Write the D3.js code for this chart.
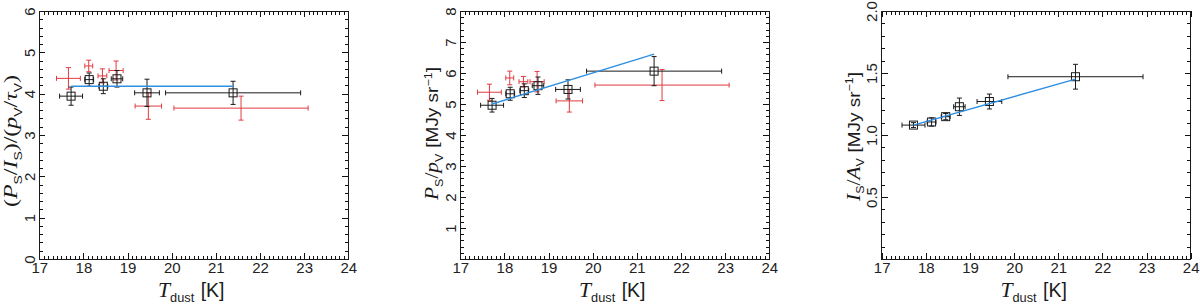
<!DOCTYPE html>
<html>
<head>
<meta charset="utf-8">
<script src="https://cdn.jsdelivr.net/npm/d3@7"></script>
<style>
  body { margin: 0; background: #fff; }
  svg { display: block; }
  .tick text { font-family: "Liberation Sans", Arial, sans-serif; font-size: 15px; fill: #222; }
  .tick line { stroke: #111; }
</style>
</head>
<body>
<svg id="chart" width="1200" height="306"></svg>
<script>
// dust temperature, black points (same for all three panels)
const tdust = [17.72, 18.13, 18.45, 18.76, 19.44, 21.39];
const tdustErr = [0.26, 0.10, 0.10, 0.13, 0.28, 1.53];
// dust temperature, red points
const tdustRed = [17.66, 18.12, 18.43, 18.74, 19.47, 21.57];
const tdustRedErr = [0.27, 0.09, 0.10, 0.16, 0.30, 1.52];

// panel 1: (Ps/Is)/(pv/tauv)
const ratioBlack = [3.94, 4.34, 4.18, 4.36, 4.02, 4.02];
const ratioBlackErr = [0.22, 0.16, 0.18, 0.20, 0.33, 0.28];
const ratioRed = [4.37, 4.67, 4.43, 4.56, 3.70, 3.65];
const ratioRedErr = [0.26, 0.14, 0.17, 0.23, 0.32, 0.29];
const ratioFit = [4.18, 4.18];

// panel 2: Ps/pv
const polBlack = [4.96, 5.33, 5.43, 5.59, 5.47, 6.06];
const polBlackErr = [0.22, 0.21, 0.22, 0.28, 0.31, 0.47];
const polRed = [5.38, 5.84, 5.72, 5.72, 5.10, 5.61];
const polRedErr = [0.26, 0.22, 0.17, 0.33, 0.36, 0.50];
const polFit = [5.00, 6.61];

// panel 3: Is/Av
const intBlack = [1.08, 1.105, 1.148, 1.228, 1.27, 1.47];
const intBlackErr = [0.02, 0.033, 0.025, 0.07, 0.06, 0.10];
const intFit = [1.08, 1.45];

// tick labels
const xTicks = [17, 18, 19, 20, 21, 22, 23, 24];
const yTicks1 = [0, 1, 2, 3, 4, 5, 6];
const yTicks2 = [1, 2, 3, 4, 5, 6, 7, 8];
const yTicks3 = [0.5, 1.0, 1.5, 2.0];

const RED = "#e23a3f";
const BLUE = "#2f8fe0";
const INK = "#1a1a1a";

const svg = d3.select("#chart");
const plotTop = 11, plotH = 248, plotW = 309;

// bits of a math label: it = italic serif, rm = serif, sub = small sans subscript, sans, sup
// optional third item is an extra gap before the piece
function mathLabel(sel, parts, size){
    let shift = 0;
    parts.forEach(([kind, txt, gap]) => {
        const t = sel.append("tspan").text(txt);
        let want = 0;
        if (kind === "it" || kind === "rm"){
            t.attr("font-family", "'Liberation Serif', 'Times New Roman', serif")
             .attr("font-style", kind === "it" ? "italic" : "normal")
             .attr("font-size", size + 1);
        } else {
            t.attr("font-family", "'Liberation Sans', Arial, sans-serif");
            if (kind === "sub"){ t.attr("font-size", size * 0.62); want = size * 0.25; }
            else if (kind === "sup"){ t.attr("font-size", size * 0.62); want = -size * 0.38; }
            else t.attr("font-size", size - 1);
        }
        if (gap) t.attr("dx", gap);
        if (want !== shift){ t.attr("dy", want - shift); shift = want; }
    });
}

// squeeze or stretch a label to the length it has in the figure
function fitScale(textSel, target){
    const len = textSel.node().getComputedTextLength();
    return len > 0 ? target / len : 1;
}

function drawPanel(p){
    const x = d3.scaleLinear().domain([17, 24]).range([p.left, p.left + plotW]);
    const y = d3.scaleLinear().domain(p.yDomain).range([plotTop + plotH, plotTop]);
    const g = svg.append("g");

    const xMinor = d3.range(170, 241).map(v => v / 10).filter(v => Math.abs(v - Math.round(v)) > 1e-6);
    const yMinor = d3.range(p.yDomain[0], p.yDomain[1] + 1e-9, p.yMinorStep)
        .map(v => +v.toFixed(3)).filter(v => !p.yMajor.some(m => Math.abs(m - v) < 1e-6));

    const addAxis = (axis, transform) => {
        const a = g.append("g").attr("transform", transform).call(axis).attr("shape-rendering", "crispEdges");
        a.select(".domain").remove();
        return a;
    };

    const bottom = plotTop + plotH;
    // bottom / top
    addAxis(d3.axisBottom(x).tickValues(xTicks).tickSize(-6).tickPadding(3).tickFormat(d3.format("d")), `translate(0,${bottom})`);
    addAxis(d3.axisBottom(x).tickValues(xMinor).tickSize(-3.5).tickFormat(""), `translate(0,${bottom})`);
    addAxis(d3.axisTop(x).tickValues(xTicks).tickSize(-6).tickFormat(""), `translate(0,${plotTop})`);
    addAxis(d3.axisTop(x).tickValues(xMinor).tickSize(-3.5).tickFormat(""), `translate(0,${plotTop})`);

    // left / right, left labels turned to read upwards
    const left = addAxis(d3.axisLeft(y).tickValues(p.yMajor).tickSize(-6).tickFormat(p.yFormat), `translate(${p.left},0)`);
    left.selectAll("text")
        .attr("text-anchor", "middle")
        .attr("x", 0).attr("dy", null)
        .attr("y", -4.5)
        .attr("transform", "rotate(-90)");
    addAxis(d3.axisLeft(y).tickValues(yMinor).tickSize(-3.5).tickFormat(""), `translate(${p.left},0)`);
    addAxis(d3.axisRight(y).tickValues(p.yMajor).tickSize(-6).tickFormat(""), `translate(${p.left + plotW},0)`);
    addAxis(d3.axisRight(y).tickValues(yMinor).tickSize(-3.5).tickFormat(""), `translate(${p.left + plotW},0)`);

    g.append("rect")
        .attr("x", p.left).attr("y", plotTop).attr("width", plotW).attr("height", plotH)
        .attr("fill", "none").attr("stroke", INK).attr("stroke-width", 1)
        .attr("shape-rendering", "crispEdges");

    const cap = 2.5;
    const errorBars = (xs, xe, ys, ye, color) => {
        const eb = g.append("g").attr("stroke", color).attr("stroke-width", 1).attr("fill", "none");
        const d = xs.map((v, i) => ({x: v, xe: xe[i], y: ys[i], ye: ye[i]}));
        const items = eb.selectAll("g").data(d).enter().append("g");
        // horizontal bar + caps
        items.append("path").attr("d", (e) => {
            const x0 = x(e.x - e.xe), x1 = x(e.x + e.xe), yy = y(e.y);
            return `M${x0},${yy}H${x1}M${x0},${yy - cap}V${yy + cap}M${x1},${yy - cap}V${yy + cap}`;
        });
        // vertical bar + caps
        items.append("path").attr("d", (e) => {
            const y0 = y(e.y - e.ye), y1 = y(e.y + e.ye), xx = x(e.x);
            return `M${xx},${y0}V${y1}M${xx - cap},${y0}H${xx + cap}M${xx - cap},${y1}H${xx + cap}`;
        });
    };

    if (p.red) errorBars(tdustRed, tdustRedErr, p.red, p.redErr, RED);
    errorBars(tdust, tdustErr, p.black, p.blackErr, INK);

    g.selectAll("rect.pt").data(p.black).enter().append("rect")
        .attr("class", "pt")
        .attr("x", (d, i) => x(tdust[i]) - 4)
        .attr("y", (d) => y(d) - 4)
        .attr("width", 8).attr("height", 8)
        .attr("fill", "none").attr("stroke", INK).attr("stroke-width", 1);

    const fitX = [d3.min(tdust), d3.max(tdust)];
    g.append("path")
        .datum(p.fit)
        .attr("fill", "none").attr("stroke", BLUE).attr("stroke-width", 1.4)
        .attr("d", d3.line().x((d, i) => x(fitX[i])).y((d) => y(d)));

    // axis titles
    const xt = g.append("text").attr("text-anchor", "middle").attr("fill", INK);
    mathLabel(xt, [["it", "T"], ["sub", "dust"], ["sans", "[K]", 6]], 19);
    const kx = fitScale(xt, 60);
    xt.attr("transform", `translate(${p.left + 152},297) scale(${kx})`);

    const yt = g.append("text").attr("text-anchor", "middle").attr("fill", INK);
    mathLabel(yt, p.title, 17);
    const ky = fitScale(yt, p.titleSpan[1] - p.titleSpan[0]);
    const cy = (p.titleSpan[0] + p.titleSpan[1]) / 2;
    // stretch along the text only, keep the glyph height
    yt.attr("transform", `translate(${p.left - 22},${cy}) rotate(-90) scale(${ky},${Math.min(ky, 1)})`);
}

const panels = [
    {left: 39.3, yDomain: [0, 6], yMajor: yTicks1, yMinorStep: 0.2, yFormat: d3.format("d"),
     black: ratioBlack, blackErr: ratioBlackErr, red: ratioRed, redErr: ratioRedErr, fit: ratioFit,
     titleSpan: [75, 207],
     title: [["rm", "("], ["it", "P"], ["sub", "S"], ["rm", "/"], ["it", "I"], ["sub", "S"], ["rm", ")/("],
             ["it", "p"], ["sub", "V"], ["rm", "/"], ["it", "τ"], ["sub", "V"], ["rm", ")"]]},
    {left: 460.3, yDomain: [0, 8], yMajor: yTicks2, yMinorStep: 0.2, yFormat: d3.format("d"),
     black: polBlack, blackErr: polBlackErr, red: polRed, redErr: polRedErr, fit: polFit,
     titleSpan: [70, 197],
     title: [["it", "P"], ["sub", "S"], ["rm", "/"], ["it", "p"], ["sub", "V"], ["sans", "[MJy sr", 5], ["sup", "−1"], ["sans", "]"]]},
    {left: 881.7, yDomain: [0, 2], yMajor: yTicks3, yMinorStep: 0.1, yFormat: d3.format(".1f"),
     black: intBlack, blackErr: intBlackErr, red: null, redErr: null, fit: intFit,
     titleSpan: [75, 198],
     title: [["it", "I"], ["sub", "S"], ["rm", "/"], ["it", "A"], ["sub", "V"], ["sans", "[MJy sr", 5], ["sup", "−1"], ["sans", "]"]]}
];

panels.forEach(drawPanel);
</script>
</body>
</html>
